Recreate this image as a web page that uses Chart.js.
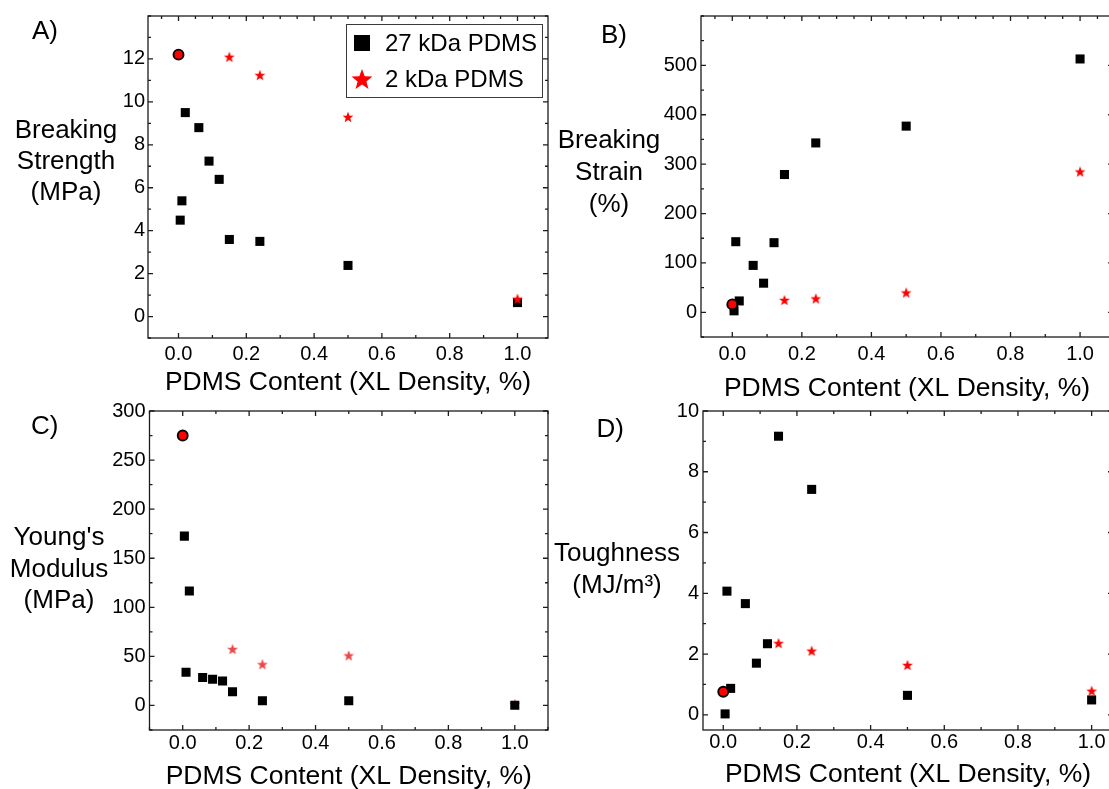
<!DOCTYPE html>
<html>
<head>
<meta charset="utf-8">
<title>Mechanical properties vs PDMS content</title>
<script src="https://cdn.jsdelivr.net/npm/chart.js@4.4.1/dist/chart.umd.min.js"></script>
<style>
  html, body { margin: 0; padding: 0; background: #fff; }
  body { width: 1109px; height: 789px; overflow: hidden; position: relative; }
  canvas { position: absolute; }
</style>
</head>
<body>
<canvas id="panelA"></canvas>
<canvas id="panelB"></canvas>
<canvas id="panelC"></canvas>
<canvas id="panelD"></canvas>
<script>
// crosslink density (% PDMS) of each sample set
const XL_27K = [0.005, 0.01, 0.02, 0.06, 0.09, 0.12, 0.15, 0.24, 0.5, 1.0];
const XL_2K = [0.15, 0.24, 0.5, 1.0];
const XL_NEAT = [0];

// breaking strength (MPa)
const strength27k = [4.49, 5.39, 9.5, 8.8, 7.24, 6.39, 3.59, 3.5, 2.38, 0.65];
const strength2k = [12.1, 11.25, 9.3, 0.83];
const strengthNeat = [12.2];

// breaking strain (%)
const strain27k = [3, 143, 23, 95, 59, 141, 279, 343, 377, 513];
const strain2k = [25, 28, 40, 285];
const strainNeat = [16];

// Young's modulus (MPa)
const modulus27k = [172.5, 33.8, 116.7, 28.4, 26.8, 25, 13.9, 4.8, 4.8, 0.3];
const modulus2k = [57.5, 42, 51, 1.5];
const modulusNeat = [275];

// toughness (MJ/m3)
const toughness27k = [0.03, 4.07, 0.87, 3.66, 1.7, 2.34, 9.17, 7.42, 0.64, 0.49];
const toughness2k = [2.36, 2.11, 1.64, 0.79];
const toughnessNeat = [0.76];

// tick labels
const X_TICKS = [0, 0.2, 0.4, 0.6, 0.8, 1.0];
const STRENGTH_TICKS = [0, 2, 4, 6, 8, 10, 12];
const STRAIN_TICKS = [0, 100, 200, 300, 400, 500];
const MODULUS_TICKS = [0, 50, 100, 150, 200, 250, 300];
const TOUGHNESS_TICKS = [0, 2, 4, 6, 8, 10];

const FONT = "'Liberation Sans', Arial, sans-serif";
const INK = '#1c1c1c';
const Y_AXIS_W = 40;

Chart.defaults.font.family = FONT;
Chart.defaults.color = '#000';

function pairs(xs, ys) {
  return xs.map((x, i) => ({ x, y: ys[i] }));
}

function starPath(ctx, cx, cy, r) {
  ctx.beginPath();
  for (let i = 0; i < 10; i++) {
    const rad = i % 2 ? r * 0.42 : r;
    const a = -Math.PI / 2 + i * Math.PI / 5;
    ctx.lineTo(cx + rad * Math.cos(a), cy + rad * Math.sin(a));
  }
  ctx.closePath();
}

// filled five point star used as a point style
function starImage(r, color) {
  const c = document.createElement('canvas');
  const size = Math.ceil(r * 2) + 2;
  c.width = c.height = size;
  const g = c.getContext('2d');
  g.fillStyle = color;
  starPath(g, size / 2, size / 2 + r * 0.1, r);
  g.fill();
  return c;
}

// values between min and max on a fixed step
function stepValues(min, max, step) {
  const out = [];
  for (let k = Math.ceil(min / step - 1e-9); k * step <= max + 1e-9; k++) {
    out.push(Math.round(k * step * 1e6) / 1e6);
  }
  return out;
}

// closed box with inward ticks on all four sides
const framePlugin = {
  id: 'frame',
  beforeDatasetsDraw(chart, args, opts) {
    const { ctx, chartArea: a, scales: { x, y } } = chart;
    const isMajor = (v, list) => list.some(t => Math.abs(t - v) < 1e-9);
    ctx.save();
    ctx.strokeStyle = INK;
    ctx.lineWidth = 1.3;
    ctx.strokeRect(a.left, a.top, a.right - a.left, a.bottom - a.top);
    ctx.beginPath();
    for (const v of stepValues(x.min, x.max, opts.xMinor)) {
      const px = x.getPixelForValue(v);
      const len = isMajor(v, X_TICKS) ? 5 : 3;
      ctx.moveTo(px, a.bottom); ctx.lineTo(px, a.bottom - len);
    }
    for (const v of stepValues(x.min, x.max, opts.xTopMinor)) {
      const px = x.getPixelForValue(v);
      const len = isMajor(v, X_TICKS) ? 5 : 3;
      ctx.moveTo(px, a.top); ctx.lineTo(px, a.top + len);
    }
    for (const v of stepValues(y.min, y.max, opts.yMinor)) {
      const py = y.getPixelForValue(v);
      const len = isMajor(v, opts.yTicks) ? 5 : 3;
      ctx.moveTo(a.left, py); ctx.lineTo(a.left + len, py);
      ctx.moveTo(a.right, py); ctx.lineTo(a.right - len, py);
    }
    ctx.stroke();
    ctx.restore();
  }
};

// panel letter, horizontal y title and the boxed legend
const notesPlugin = {
  id: 'notes',
  afterDraw(chart, args, opts) {
    const { ctx } = chart;
    ctx.save();
    ctx.fillStyle = '#000';
    ctx.font = `26px ${FONT}`;
    ctx.textAlign = 'left';
    ctx.textBaseline = 'alphabetic';
    ctx.fillText(opts.letter, opts.letterAt[0], opts.letterAt[1]);
    ctx.textAlign = 'center';
    opts.title.forEach((line, i) => {
      ctx.fillText(line, opts.titleAt[0], opts.titleAt[1] + i * opts.titleGap);
    });
    const lg = opts.legend;
    if (lg) {
      ctx.strokeStyle = '#3a3a3a';
      ctx.lineWidth = 1;
      ctx.strokeRect(lg.x + 0.5, lg.y + 0.5, lg.w, lg.h);
      const entries = chart.data.datasets.filter(d => d.inLegend).reverse();
      ctx.font = `24px ${FONT}`;
      ctx.textAlign = 'left';
      ctx.textBaseline = 'middle';
      entries.forEach((d, i) => {
        const cy = lg.rows[i];
        ctx.fillStyle = d.legendColor;
        if (d.pointStyle === 'rect') {
          ctx.fillRect(lg.markerX - 8, cy - 8, 16, 16);
        } else {
          starPath(ctx, lg.markerX, cy + 1, 11);
          ctx.fill();
        }
        ctx.fillStyle = '#000';
        ctx.fillText(d.label, lg.textX, cy + 1);
      });
    }
    ctx.restore();
  }
};

const panels = [
  {
    id: 'panelA', box: { left: 0, top: 0, w: 560, h: 399 },
    area: { left: 148, right: 548, top: 16, bottom: 338 },
    xRange: [-0.09, 1.09], yRange: [-1, 14], yTicks: STRENGTH_TICKS, yMinor: 1, xTopMinor: 0.05,
    xLabelPad: 4, yLabelPad: 3,
    long: strength27k, short: strength2k, neat: strengthNeat, starColor: '#ff0000', starsOnTop: true,
    letter: 'A)', letterAt: [32, 39],
    title: ['Breaking', 'Strength', '(MPa)'], titleAt: [66, 138], titleGap: 31,
    legend: { x: 346, y: 24, w: 196, h: 73, rows: [43, 79], markerX: 362, textX: 385 }
  },
  {
    id: 'panelB', box: { left: 540, top: 0, w: 580, h: 405 },
    area: { left: 161, right: 573.5, top: 12, bottom: 337 },
    xRange: [-0.09, 1.095], yRange: [-50, 600], yTicks: STRAIN_TICKS, yMinor: 50, xTopMinor: 0.05,
    xLabelPad: 5, yLabelPad: 4,
    long: strain27k, short: strain2k, neat: strainNeat, starColor: '#ff0000', starsOnTop: true,
    letter: 'B)', letterAt: [61, 43],
    title: ['Breaking', 'Strain', '(%)'], titleAt: [69, 148], titleGap: 32
  },
  {
    id: 'panelC', box: { left: 0, top: 395, w: 560, h: 398 },
    area: { left: 149.5, right: 548, top: 14, bottom: 335 },
    xRange: [-0.1, 1.1], yRange: [-25, 300], yTicks: MODULUS_TICKS, yMinor: 25, xTopMinor: 0.1,
    xLabelPad: 1, yLabelPad: 4,
    long: modulus27k, short: modulus2k, neat: modulusNeat, starColor: '#ef4646', starsOnTop: false,
    letter: 'C)', letterAt: [31, 38.5],
    title: ["Young's", 'Modulus', '(MPa)'], titleAt: [59, 150], titleGap: 31.5
  },
  {
    id: 'panelD', box: { left: 540, top: 395, w: 580, h: 396 },
    area: { left: 163, right: 573, top: 14, bottom: 335 },
    xRange: [-0.055, 1.058], yRange: [-0.5, 10], yTicks: TOUGHNESS_TICKS, yMinor: 1, xTopMinor: 0.1,
    xLabelPad: 0, yLabelPad: 4,
    long: toughness27k, short: toughness2k, neat: toughnessNeat, starColor: '#ff0000', starsOnTop: true,
    letter: 'D)', letterAt: [56.5, 42],
    title: ['Toughness', '(MJ/m\u00B3)'], titleAt: [77, 165.5], titleGap: 32.5
  }
];

panels.forEach(p => {
  const canvas = document.getElementById(p.id);
  canvas.width = p.box.w;
  canvas.height = p.box.h;
  canvas.style.left = p.box.left + 'px';
  canvas.style.top = p.box.top + 'px';

  new Chart(canvas, {
    type: 'scatter',
    data: {
      datasets: [
        {
          label: 'neat', data: pairs(XL_NEAT, p.neat), order: 0,
          pointStyle: 'circle', pointRadius: 5,
          pointBackgroundColor: '#ff0000', pointBorderColor: '#000', pointBorderWidth: 1.9
        },
        {
          label: '2 kDa PDMS', data: pairs(XL_2K, p.short), order: p.starsOnTop ? 1 : 2,
          pointStyle: starImage(5.7, p.starColor), pointRadius: 5,
          inLegend: true, legendColor: '#ff0000'
        },
        {
          label: '27 kDa PDMS', data: pairs(XL_27K, p.long), order: p.starsOnTop ? 2 : 1,
          pointStyle: 'rect', pointRadius: 6.4,
          pointBackgroundColor: '#000', pointBorderWidth: 0,
          inLegend: true, legendColor: '#000'
        }
      ]
    },
    options: {
      responsive: false,
      animation: false,
      events: [],
      layout: {
        padding: {
          left: p.area.left - Y_AXIS_W,
          right: p.box.w - p.area.right,
          top: p.area.top,
          bottom: 0
        }
      },
      scales: {
        x: {
          type: 'linear',
          min: p.xRange[0], max: p.xRange[1],
          grid: { display: false, drawTicks: false },
          border: { display: false },
          afterBuildTicks: s => { s.ticks = X_TICKS.map(value => ({ value })); },
          afterFit: s => { s.height = p.box.h - p.area.bottom; },
          ticks: {
            font: { size: 20 }, color: '#000', padding: p.xLabelPad,
            maxRotation: 0, autoSkip: false,
            callback: v => v.toFixed(1)
          },
          title: {
            display: true, text: 'PDMS Content (XL Density, %)',
            font: { size: 26.5 }, color: '#000', padding: 0
          }
        },
        y: {
          type: 'linear',
          min: p.yRange[0], max: p.yRange[1],
          grid: { display: false, drawTicks: false },
          border: { display: false },
          afterBuildTicks: s => { s.ticks = p.yTicks.map(value => ({ value })); },
          afterFit: s => { s.width = Y_AXIS_W; },
          ticks: {
            font: { size: 20 }, color: '#000', padding: p.yLabelPad, autoSkip: false,
            callback: v => String(v)
          }
        }
      },
      plugins: {
        legend: { display: false },
        tooltip: { enabled: false },
        frame: { xMinor: 0.1, xTopMinor: p.xTopMinor, yMinor: p.yMinor, yTicks: p.yTicks },
        notes: {
          letter: p.letter, letterAt: p.letterAt,
          title: p.title, titleAt: p.titleAt, titleGap: p.titleGap,
          legend: p.legend
        }
      }
    },
    plugins: [framePlugin, notesPlugin]
  });
});
</script>
</body>
</html>
